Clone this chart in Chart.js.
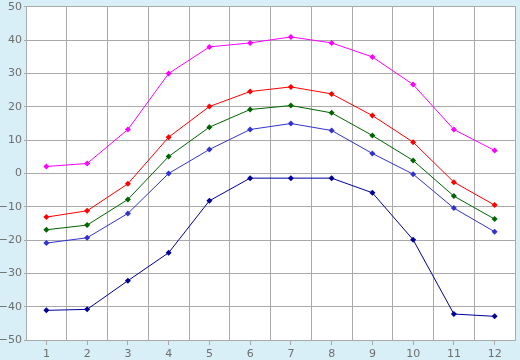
<!DOCTYPE html>
<html>
<head>
<meta charset="utf-8">
<script src="https://cdn.jsdelivr.net/npm/chart.js@4/dist/chart.umd.min.js"></script>
<style>
html,body{margin:0;padding:0;background:#d9eff7;}
#wrap{width:520px;height:360px;position:relative;}
</style>
</head>
<body>
<div id="wrap"><canvas id="c" width="520" height="360"></canvas></div>
<script>
const categories = ["1","2","3","4","5","6","7","8","9","10","11","12"];
const seriesMagenta = [2.1, 3.0, 13.2, 30.0, 38.0, 39.2, 41.0, 39.2, 35.0, 26.7, 13.2, 6.9];
const seriesRed = [-13.1, -11.2, -3.1, 10.9, 20.1, 24.6, 26.0, 23.9, 17.4, 9.4, -2.6, -9.5];
const seriesGreen = [-16.9, -15.5, -7.8, 5.1, 13.9, 19.2, 20.4, 18.2, 11.4, 3.9, -6.8, -13.7];
const seriesBlue = [-20.9, -19.3, -12.0, 0.0, 7.2, 13.2, 15.0, 12.9, 6.0, -0.2, -10.4, -17.5];
const seriesNavy = [-41.1, -40.8, -32.2, -23.8, -8.2, -1.4, -1.4, -1.4, -5.8, -19.9, -42.2, -42.9];
const yTicks = [-50, -40, -30, -20, -10, 0, 10, 20, 30, 40, 50];

function ds(data, color) {
  return {
    data: data, borderColor: color, backgroundColor: color,
    borderWidth: 1, pointStyle: 'rectRot', pointRadius: 3, pointBorderWidth: 0,
    pointHoverRadius: 3, tension: 0, fill: false
  };
}

const grey = '#aaaaaa';
const textCol = '#6e6e6e';
const font = {family: 'DejaVu Sans', size: 11, lineHeight: 0.9};

new Chart(document.getElementById('c'), {
  type: 'line',
  data: {
    labels: categories,
    datasets: [
      ds(seriesMagenta, '#ff00ff'),
      ds(seriesRed, '#ff0000'),
      ds(seriesGreen, '#006400'),
      ds(seriesBlue, '#3333cc'),
      ds(seriesNavy, '#000099')
    ]
  },
  options: {
    responsive: false,
    animation: false,
    events: [],
    layout: {padding: {top: 0, right: 5, bottom: 0, left: 0}},
    plugins: {legend: {display: false}, tooltip: {enabled: false}},
    scales: {
      x: {
        type: 'category',
        position: 'bottom',
        offset: true,
        grid: {offset: false, drawOnChartArea: false, color: grey, tickLength: 5, lineWidth: 1},
        border: {display: true, color: grey},
        ticks: {color: textCol, font: font, padding: 4, maxRotation: 0, autoSkip: false},
        afterFit: function(s){ s.height = 20; }
      },
      x2: {
        type: 'category',
        position: 'top',
        labels: categories,
        offset: true,
        grid: {offset: true, drawTicks: false, color: grey, lineWidth: 1},
        border: {display: true, color: grey},
        ticks: {display: false},
        afterFit: function(s){ s.height = 0; }
      },
      y: {
        type: 'linear',
        min: -50, max: 50,
        afterBuildTicks: function(s){ s.ticks = yTicks.map(v => ({value: v})); },
        afterFit: function(s){ s.width = 26; },
        grid: {color: grey, drawTicks: true, tickLength: 2, lineWidth: 1},
        border: {display: true, color: grey},
        ticks: {
          color: textCol, font: font, padding: 2,
          callback: function(v){ return v < 0 ? '\u2212' + Math.abs(v) : String(v); }
        }
      }
    }
  },
  plugins: [{
    id: 'bg',
    beforeDraw: function(chart) {
      const ctx = chart.ctx, a = chart.chartArea;
      ctx.save();
      ctx.fillStyle = '#d9eff7';
      ctx.fillRect(0, 0, chart.width, chart.height);
      ctx.fillStyle = '#ffffff';
      ctx.fillRect(a.left, a.top, a.right - a.left, a.bottom - a.top);
      ctx.restore();
    }
  }]
});
</script>
</body>
</html>
